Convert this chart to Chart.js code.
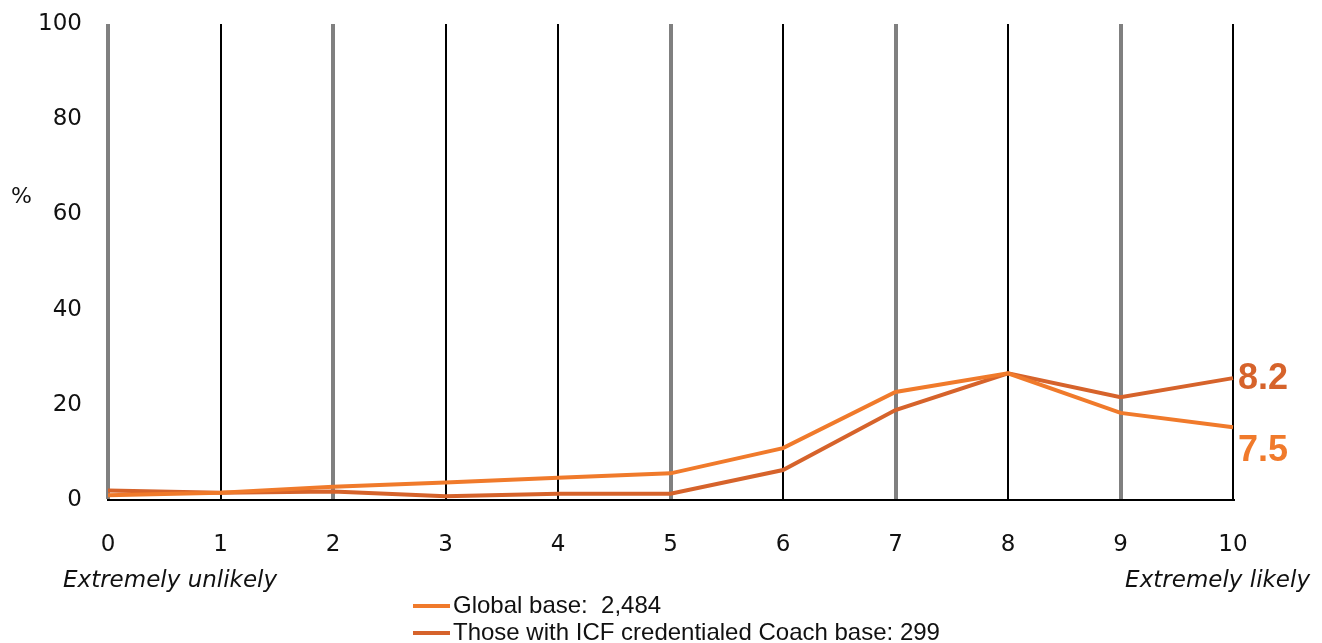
<!DOCTYPE html>
<html>
<head>
<meta charset="utf-8">
<script src="https://cdn.jsdelivr.net/npm/chart.js@4.4.3/dist/chart.umd.min.js"></script>
<style>
  html, body { margin: 0; padding: 0; background: #fff; }
  #wrap { width: 1322px; height: 643px; position: relative; }
</style>
</head>
<body>
<div id="wrap"><canvas id="c"></canvas></div>
<script>
const scoreLabels = ["0", "1", "2", "3", "4", "5", "6", "7", "8", "9", "10"];
const yTicks = [0, 20, 40, 60, 80, 100];
const globalPct = [1.0, 1.5, 2.8, 3.7, 4.7, 5.6, 10.9, 22.7, 26.6, 18.3, 15.3];
const icfPct = [2.0, 1.5, 1.8, 0.8, 1.3, 1.3, 6.3, 18.9, 26.6, 21.6, 25.6];
const seriesNames = ["Global base:  2,484", "Those with ICF credentialed Coach base: 299"];
const endLabels = ["7.5", "8.2"];
const grayGridAt = [0, 2, 5, 7, 9];

const ORANGE = "#f07a2b";
const DARK_ORANGE = "#d6632b";

const extras = {
  id: "extras",
  afterDraw(chart) {
    const { ctx, scales: { x, y } } = chart;
    ctx.save();
    ctx.fillStyle = "#111";
    ctx.font = "22px 'DejaVu Sans'";
    ctx.textBaseline = "middle";
    ctx.textAlign = "left";
    ctx.fillText("%", 11, 197);

    ctx.font = "oblique 23px 'DejaVu Sans'";
    ctx.fillText("Extremely unlikely", 63, 581);
    ctx.textAlign = "right";
    ctx.fillText("Extremely likely", 1310, 581);

    // legend
    const cols = [ORANGE, DARK_ORANGE];
    ctx.textAlign = "left";
    ctx.font = "24px 'Liberation Sans'";
    seriesNames.forEach((n, i) => {
      const ly = 606 + i * 27;
      ctx.strokeStyle = cols[i];
      ctx.lineWidth = 4;
      ctx.beginPath(); ctx.moveTo(413, ly); ctx.lineTo(450, ly); ctx.stroke();
      ctx.fillStyle = "#111";
      ctx.fillText(n, 453, ly);
    });

    // end-of-line labels
    const last = scoreLabels.length - 1;
    const px = x.getPixelForValue(last) + 5;
    ctx.font = "bold 36px 'Liberation Sans'";
    ctx.fillStyle = DARK_ORANGE;
    ctx.fillText(endLabels[1], px, y.getPixelForValue(icfPct[last]) + 1);
    ctx.fillStyle = ORANGE;
    ctx.fillText(endLabels[0], px, y.getPixelForValue(globalPct[last]) + 24);
    ctx.restore();
  }
};

new Chart(document.getElementById("c"), {
  type: "line",
  data: {
    labels: scoreLabels,
    datasets: [
      { label: seriesNames[0], data: globalPct, borderColor: ORANGE, borderWidth: 4, pointRadius: 0, tension: 0 },
      { label: seriesNames[1], data: icfPct, borderColor: DARK_ORANGE, borderWidth: 4, pointRadius: 0, tension: 0 },
    ],
  },
  options: {
    responsive: true,
    maintainAspectRatio: false,
    animation: false,
    layout: { padding: { top: 24, right: 89, left: 0, bottom: 0 } },
    plugins: { legend: { display: false }, tooltip: { enabled: false } },
    scales: {
      x: {
        offset: false,
        afterFit: (s) => { s.height = 143; s.paddingLeft = 0; s.paddingRight = 0; },
        grid: {
          drawTicks: false,
          color: (c) => (grayGridAt.includes(c.index) ? "#808080" : "#000"),
          lineWidth: (c) => (grayGridAt.includes(c.index) ? 4 : 2),
        },
        border: { display: true, color: "#000", width: 2, z: 1 },
        ticks: { color: "#111", font: { family: "DejaVu Sans", size: 23 }, padding: 31, maxRotation: 0 },
      },
      y: {
        min: 0,
        max: 100,
        afterFit: (s) => { s.width = 108; s.paddingTop = 0; s.paddingBottom = 0; },
        afterBuildTicks: (s) => { s.ticks = yTicks.map((v) => ({ value: v })); },
        grid: { display: false },
        border: { display: false },
        ticks: { color: "#111", font: { family: "DejaVu Sans", size: 23 }, padding: 18 },
      },
    },
  },
  plugins: [extras],
});
</script>
</body>
</html>
